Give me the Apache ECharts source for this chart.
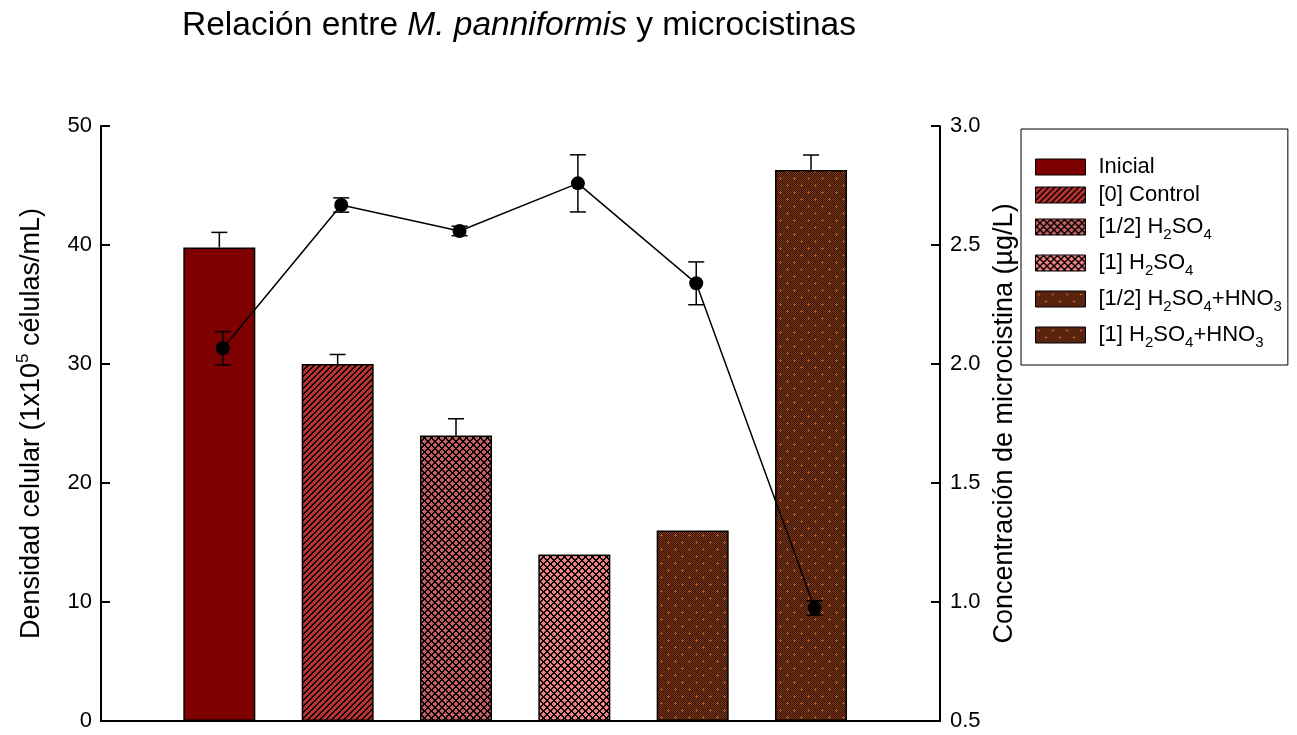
<!DOCTYPE html>
<html><head><meta charset="utf-8">
<script src="https://cdn.jsdelivr.net/npm/echarts@6/dist/echarts.min.js"></script>
<style>html,body{margin:0;padding:0;background:#fff}#c{width:1297px;height:735px}</style>
</head><body><div id="c"></div>
<script>
// ---- data ----
const categories = ['Inicial', '[0] Control', '[1/2] H2SO4', '[1] H2SO4', '[1/2] H2SO4+HNO3', '[1] H2SO4+HNO3'];
const legendLabels = ['Inicial', '[0] Control', '[1/2] H{s|2}SO{s|4}', '[1] H{s|2}SO{s|4}', '[1/2] H{s|2}SO{s|4}+HNO{s|3}', '[1] H{s|2}SO{s|4}+HNO{s|3}'];
const cellDensity = [39.8, 30.0, 24.0, 14.0, 16.0, 46.3];
const cellDensityErr = [1.26, 0.8, 1.4, 0, 0, 1.26];
const microcystin = [2.066, 2.668, 2.559, 2.759, 2.339, 0.975];
const microcystinErr = [0.07, 0.03, 0.02, 0.12, 0.09, 0.03];
const leftMin = 0, leftMax = 50, leftStep = 10;
const rightMin = 0.5, rightMax = 3.0, rightStep = 0.5;

// ---- patterns ----
function hex(c){return [parseInt(c.slice(1,3),16),parseInt(c.slice(3,5),16),parseInt(c.slice(5,7),16)];}
function makePattern(size, fn){
  const cv = document.createElement('canvas'); cv.width = size; cv.height = size;
  const ctx = cv.getContext('2d'); const img = ctx.createImageData(size, size);
  for (let y=0;y<size;y++) for (let x=0;x<size;x++){
    const c = hex(fn(x,y)); const i=(y*size+x)*4;
    img.data[i]=c[0]; img.data[i+1]=c[1]; img.data[i+2]=c[2]; img.data[i+3]=255;
  }
  ctx.putImageData(img,0,0);
  return {image: cv, repeat: 'repeat'};
}
const stripes = makePattern(6, (x,y)=> ((x+y)%6 < 2) ? '#000000' : '#B73131');
const cross = (base)=> makePattern(7, (x,y)=> (((x+y)%7 < 2) || ((x-y+70)%7 < 2)) ? '#000000' : base);
const brown = makePattern(14, (x,y)=>{
  const d1 = Math.abs(x-3)+Math.abs(y-3), d2 = Math.abs(x-10)+Math.abs(y-10);
  if (d1<=1 || d2<=1) return '#B85A22';
  return ((x+y)%2===0) ? '#331105' : '#80381A';
});
const fills = ['#7F0000', stripes, cross('#C65E5E'), cross('#F08080'), brown, brown];

const FONT = '"Liberation Sans", Arial, sans-serif';
const chart = echarts.init(document.getElementById('c'), null, {renderer:'canvas'});

const barSeries = categories.map((name, i)=>({
  name, type:'bar', xAxisIndex:0, yAxisIndex:0,
  data:[[i+1, cellDensity[i]]], barWidth:72, barGap:'-100%',
  itemStyle:{color: fills[i], borderColor:'#000', borderWidth:1.5},
  z:2, silent:true
}));

const errBarData = categories.map((c,i)=>[i+1, cellDensity[i], cellDensityErr[i]]);
const errLineData = categories.map((c,i)=>[i+1.03, microcystin[i], microcystinErr[i]]);

function errRender(upOnly){
  return function(params, api){
    const x = api.value(0), y = api.value(1), e = api.value(2);
    if (!e) return null;
    const top = api.coord([x, y+e]);
    const bot = api.coord(upOnly ? [x, y] : [x, y-e]);
    const w = 8;
    const st = {stroke:'#000', lineWidth:1.5};
    const ch = [
      {type:'line', shape:{x1:top[0], y1:top[1], x2:bot[0], y2:bot[1]}, style:st},
      {type:'line', shape:{x1:top[0]-w, y1:top[1], x2:top[0]+w, y2:top[1]}, style:st}
    ];
    if (!upOnly) ch.push({type:'line', shape:{x1:bot[0]-w, y1:bot[1], x2:bot[0]+w, y2:bot[1]}, style:st});
    return {type:'group', children:ch};
  };
}

const option = {
  animation:false,
  backgroundColor:'#fff',
  textStyle:{fontFamily:FONT},
  title:{
    text:'{n|Relación entre }{i|M. panniformis}{n| y microcistinas}',
    left:177, top:4,
    textStyle:{fontWeight:'normal', rich:{
      n:{fontSize:33.5, fontFamily:FONT, fontWeight:'normal', color:'#000'},
      i:{fontSize:33.5, fontFamily:FONT, fontWeight:'normal', fontStyle:'italic', color:'#000'}
    }}
  },
  legend:{
    orient:'vertical', left:1021, top:129,
    data: categories,
    itemWidth:50, itemHeight:16, itemGap:6,
    padding:[27, 6, 15, 14],
    borderColor:'#000', borderWidth:1,
    icon:'rect',
    itemStyle:{borderColor:'#000', borderWidth:1},
    formatter: function(name){
      const lab = legendLabels[categories.indexOf(name)];
      return lab.indexOf('{s|')>=0 ? '{g| }{m|' + lab.replace(/\{s\|(\d)\}/g, '}{s|$1}{m|') + '}' : '{g| }{p|' + lab + '}';
    },
    textStyle:{
      color:'#000', fontFamily:FONT, fontSize:22,
      rich:{
        g:{width:8, fontSize:22, lineHeight:24},
        p:{fontSize:22, lineHeight:26, fontFamily:FONT, color:'#000'},
        m:{fontSize:22, lineHeight:27, fontFamily:FONT, color:'#000'},
        s:{fontSize:15, lineHeight:12, padding:[15,0,0,0], fontFamily:FONT, color:'#000'}
      }
    }
  },
  grid:{left:101, right:357, top:126, bottom:14, containLabel:false},
  xAxis:{
    type:'value', min:0, max:7.09,
    axisLine:{show:true, onZero:false, lineStyle:{color:'#000', width:2}},
    axisTick:{show:false}, axisLabel:{show:false}, splitLine:{show:false}
  },
  yAxis:[
    {
      type:'value', position:'left', min:leftMin, max:leftMax, interval:leftStep,
      name:'{n|Densidad celular (1x10}{u|5}{n| células/mL)}',
      nameLocation:'middle', nameRotate:90, nameGap:53,
      nameTextStyle:{rich:{
        n:{fontSize:27, lineHeight:32, fontFamily:FONT, color:'#000'},
        u:{fontSize:17, lineHeight:14, padding:[0,0,18,0], fontFamily:FONT, color:'#000'}
      }},
      axisLine:{show:true, lineStyle:{color:'#000', width:2}},
      axisTick:{show:true, inside:true, length:9, lineStyle:{color:'#000', width:2}},
      axisLabel:{color:'#000', fontSize:22, fontFamily:FONT, margin:9},
      splitLine:{show:false}
    },
    {
      type:'value', position:'right', min:rightMin, max:rightMax, interval:rightStep,
      name:'Concentración de microcistina (µg/L)',
      nameLocation:'middle', nameRotate:90, nameGap:46,
      nameTextStyle:{fontSize:27, fontFamily:FONT, color:'#000'},
      axisLine:{show:true, lineStyle:{color:'#000', width:2}},
      axisTick:{show:true, inside:true, length:9, lineStyle:{color:'#000', width:2}},
      axisLabel:{color:'#000', fontSize:22, fontFamily:FONT, margin:10, formatter:v=>v.toFixed(1)},
      splitLine:{show:false}
    }
  ],
  series: barSeries.concat([
    {type:'custom', name:'errBars', xAxisIndex:0, yAxisIndex:0, data:errBarData, renderItem:errRender(true), z:3, silent:true},
    {type:'custom', name:'errLine', xAxisIndex:0, yAxisIndex:1, data:errLineData, renderItem:errRender(false), z:4, silent:true},
    {type:'line', name:'Microcistina', xAxisIndex:0, yAxisIndex:1,
      data: categories.map((c,i)=>[i+1.03, microcystin[i]]),
      symbol:'circle', symbolSize:14, itemStyle:{color:'#000'},
      lineStyle:{color:'#000', width:1.5}, z:5, silent:true}
  ])
};
chart.setOption(option);
</script>
</body></html>
